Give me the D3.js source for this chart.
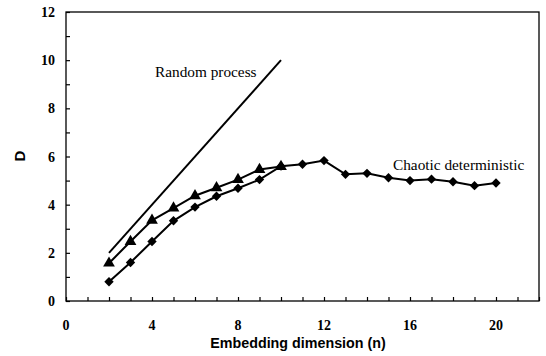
<!DOCTYPE html>
<html><head><meta charset="utf-8">
<script src="https://cdn.jsdelivr.net/npm/d3@7"></script>
<style>body{margin:0;background:#fff}</style>
</head><body>
<svg id="c" width="546" height="356"></svg>
<script>
const randomN = [2, 10];
const randomD = [2, 10];
const triN = [2,3,4,5,6,7,8,9,10];
const triD = [1.57,2.47,3.35,3.86,4.37,4.7,5.04,5.46,5.58];
const diaN = [2,3,4,5,6,7,8,9,10,11,12,13,14,15,16,17,18,19,20];
const diaD = [0.8,1.6,2.47,3.33,3.9,4.35,4.68,5.04,5.6,5.68,5.83,5.26,5.3,5.12,5.0,5.06,4.95,4.79,4.9];
const xTicks = [0,4,8,12,16,20];
const yTicks = [0,2,4,6,8,10,12];

const svg = d3.select("#c");
const x = d3.scaleLinear().domain([0,22]).range([66,539]);
const y = d3.scaleLinear().domain([0,12]).range([301,12]);
const serif = "'Liberation Serif','Times New Roman',serif";
const sans = "'Liberation Sans',Arial,sans-serif";

// frame
svg.append("rect").attr("x",x(0)).attr("y",y(12)).attr("width",x(22)-x(0)).attr("height",y(0)-y(12))
  .attr("fill","none").attr("stroke","#000").attr("stroke-width",1.3);

// ticks (inward)
const xa = d3.axisTop(x).tickValues(d3.range(0,23,1)).tickSize(4).tickFormat("");
svg.append("g").attr("transform",`translate(0,${y(0)})`).call(xa).call(g=>g.select(".domain").remove());
const ya = d3.axisRight(y).tickValues(d3.range(0,13,1)).tickSize(4).tickFormat("");
svg.append("g").attr("transform",`translate(${x(0)},0)`).call(ya).call(g=>g.select(".domain").remove());
svg.selectAll(".tick line").attr("stroke","#000").attr("stroke-width",1.2);

// tick labels
svg.append("g").selectAll("text").data(xTicks).join("text")
  .attr("x",d=>x(d)).attr("y",330).attr("text-anchor","middle")
  .attr("font-family",serif).attr("font-size",14).attr("font-weight","bold").text(d=>d);
svg.append("g").selectAll("text").data(yTicks).join("text")
  .attr("x",55).attr("y",d=>y(d)+5).attr("text-anchor","end")
  .attr("font-family",serif).attr("font-size",14).attr("font-weight","bold").text(d=>d);

// axis titles
svg.append("text").attr("x",298).attr("y",348).attr("text-anchor","middle")
  .attr("font-family",sans).attr("font-size",14.3).attr("font-weight","bold").text("Embedding dimension (n)");
svg.append("text").attr("transform","translate(25,156) rotate(-90)").attr("text-anchor","middle")
  .attr("font-family",sans).attr("font-size",15).attr("font-weight","bold").text("D");

const line = d3.line().x(d=>x(d[0])).y(d=>y(d[1]));

// random process
svg.append("path").datum(d3.zip(randomN,randomD)).attr("d",line)
  .attr("fill","none").attr("stroke","#000").attr("stroke-width",2);

// triangles
const tri = d3.zip(triN,triD);
svg.append("path").datum(tri).attr("d",line).attr("fill","none").attr("stroke","#000").attr("stroke-width",2);
svg.append("g").selectAll("path").data(tri).join("path")
  .attr("d",d3.symbol(d3.symbolTriangle,60)())
  .attr("transform",d=>`translate(${x(d[0])},${y(d[1])})`).attr("fill","#000");

// diamonds (rotated squares)
const dia = d3.zip(diaN,diaD);
svg.append("path").datum(dia).attr("d",line).attr("fill","none").attr("stroke","#000").attr("stroke-width",2);
svg.append("g").selectAll("path").data(dia).join("path")
  .attr("d",d3.symbol(d3.symbolSquare,44)())
  .attr("transform",d=>`translate(${x(d[0])},${y(d[1])}) rotate(45)`).attr("fill","#000");

// labels
svg.append("text").attr("x",155).attr("y",77).attr("font-family",serif).attr("font-size",15.3).text("Random process");
svg.append("text").attr("x",393).attr("y",170).attr("font-family",serif).attr("font-size",15.3).text("Chaotic deterministic");
</script>
</body></html>
